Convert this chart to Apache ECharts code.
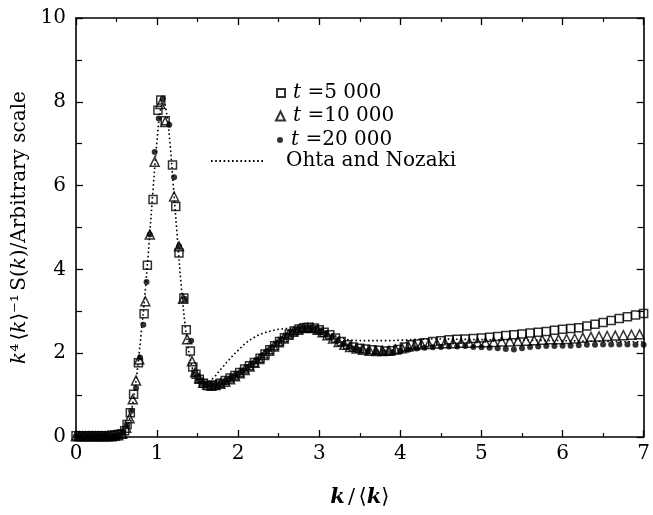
<!DOCTYPE html>
<html>
<head>
<meta charset="utf-8">
<script src="https://cdn.jsdelivr.net/npm/echarts@6/dist/echarts.min.js"></script>
<style>html,body{margin:0;padding:0;background:#fff;}#c{width:653px;height:515px;}</style>
</head>
<body>
<div id="c"></div>
<script>
// t = 5 000 (squares)
const kSq = [0.00,0.04,0.08,0.12,0.16,0.20,0.24,0.28,0.32,0.36,0.40,0.44,0.48,0.52,0.56,0.60,0.63,0.67,0.71,0.77,0.84,0.88,0.95,1.01,1.045,1.10,1.19,1.23,1.27,1.33,1.36,1.41,1.44,1.48,1.52,1.57,1.62,1.67,1.72,1.78,1.84,1.90,1.96,2.02,2.08,2.14,2.20,2.27,2.33,2.39,2.45,2.51,2.57,2.63,2.69,2.75,2.81,2.87,2.94,3.00,3.06,3.13,3.20,3.27,3.35,3.42,3.50,3.57,3.65,3.73,3.81,3.89,3.97,4.05,4.13,4.21,4.30,4.40,4.50,4.60,4.70,4.80,4.90,5.00,5.10,5.20,5.30,5.40,5.50,5.60,5.70,5.80,5.90,6.00,6.10,6.20,6.30,6.40,6.50,6.60,6.70,6.80,6.90,7.00];
const vSq = [0.03,0.03,0.03,0.03,0.03,0.03,0.03,0.03,0.03,0.03,0.03,0.04,0.05,0.06,0.08,0.15,0.3,0.58,1.02,1.77,2.94,4.1,5.67,7.8,8.04,7.55,6.49,5.5,4.39,3.32,2.56,2.05,1.67,1.5,1.38,1.28,1.23,1.22,1.24,1.28,1.35,1.41,1.47,1.54,1.62,1.70,1.78,1.88,1.98,2.08,2.18,2.28,2.37,2.46,2.53,2.58,2.61,2.62,2.60,2.56,2.50,2.44,2.36,2.28,2.20,2.15,2.12,2.10,2.08,2.07,2.05,2.06,2.09,2.15,2.20,2.22,2.25,2.28,2.30,2.32,2.33,2.34,2.35,2.36,2.38,2.40,2.42,2.44,2.46,2.48,2.50,2.52,2.55,2.57,2.59,2.61,2.65,2.69,2.73,2.78,2.83,2.87,2.91,2.95];
// t = 10 000 (triangles)
const kTri = [0.00,0.04,0.08,0.12,0.16,0.20,0.24,0.28,0.32,0.36,0.40,0.44,0.48,0.52,0.57,0.62,0.66,0.70,0.74,0.78,0.855,0.91,0.97,1.04,1.10,1.21,1.27,1.32,1.37,1.43,1.47,1.52,1.57,1.62,1.67,1.72,1.78,1.84,1.90,1.96,2.02,2.08,2.14,2.20,2.26,2.32,2.38,2.44,2.50,2.56,2.62,2.68,2.74,2.80,2.86,2.92,2.98,3.04,3.10,3.17,3.24,3.31,3.38,3.46,3.54,3.62,3.70,3.78,3.86,3.94,4.02,4.10,4.18,4.26,4.35,4.45,4.55,4.65,4.75,4.85,4.95,5.05,5.15,5.25,5.35,5.45,5.55,5.65,5.75,5.85,5.95,6.05,6.15,6.25,6.35,6.45,6.55,6.65,6.75,6.85,6.95];
const vTri = [0.02,0.02,0.02,0.02,0.02,0.02,0.02,0.02,0.02,0.02,0.02,0.02,0.03,0.04,0.08,0.22,0.45,0.9,1.35,1.85,3.24,4.83,6.57,7.95,7.52,5.74,4.55,3.3,2.33,1.81,1.55,1.4,1.3,1.25,1.23,1.24,1.27,1.32,1.38,1.45,1.52,1.6,1.68,1.77,1.86,1.96,2.06,2.16,2.26,2.35,2.44,2.51,2.56,2.6,2.61,2.6,2.56,2.5,2.43,2.35,2.27,2.2,2.15,2.11,2.08,2.06,2.05,2.05,2.06,2.09,2.12,2.16,2.19,2.21,2.22,2.23,2.24,2.24,2.25,2.25,2.26,2.26,2.27,2.28,2.28,2.29,2.3,2.31,2.32,2.33,2.33,2.34,2.35,2.37,2.39,2.4,2.41,2.42,2.43,2.44,2.45];
// t = 20 000 (filled circles)
const kDot = [0.00,0.04,0.08,0.12,0.16,0.20,0.24,0.28,0.32,0.36,0.40,0.44,0.48,0.52,0.58,0.63,0.68,0.74,0.79,0.83,0.87,0.91,0.97,1.02,1.07,1.15,1.21,1.27,1.34,1.42,1.47,1.52,1.56,1.60,1.65,1.70,1.76,1.82,1.88,1.94,2.00,2.06,2.12,2.18,2.24,2.30,2.36,2.42,2.48,2.54,2.60,2.66,2.72,2.78,2.84,2.90,2.96,3.02,3.08,3.15,3.22,3.29,3.36,3.43,3.50,3.60,3.70,3.80,3.90,4.00,4.10,4.20,4.30,4.40,4.50,4.60,4.70,4.80,4.90,5.00,5.10,5.20,5.30,5.40,5.50,5.60,5.70,5.80,5.90,6.00,6.10,6.20,6.30,6.40,6.50,6.60,6.70,6.80,6.90,7.00];
const vDot = [0.02,0.02,0.02,0.02,0.02,0.02,0.02,0.02,0.02,0.02,0.02,0.02,0.02,0.04,0.1,0.28,0.62,1.17,1.9,2.68,3.7,4.83,6.8,7.6,8.08,7.45,6.2,4.55,3.3,2.3,1.49,1.35,1.28,1.24,1.22,1.22,1.25,1.3,1.37,1.44,1.51,1.59,1.67,1.76,1.85,1.95,2.05,2.15,2.25,2.34,2.43,2.5,2.55,2.59,2.61,2.6,2.57,2.52,2.46,2.38,2.3,2.22,2.16,2.11,2.08,2.05,2.03,2.02,2.02,2.05,2.08,2.11,2.13,2.14,2.15,2.16,2.16,2.17,2.15,2.14,2.13,2.12,2.1,2.09,2.12,2.15,2.16,2.17,2.17,2.18,2.18,2.19,2.2,2.2,2.21,2.21,2.21,2.21,2.2,2.2];
// Ohta and Nozaki (dotted curve)
const kON = [0,0.1,0.2,0.3,0.4,0.5,0.55,0.6,0.65,0.7,0.75,0.8,0.85,0.9,0.95,1.0,1.04,1.08,1.12,1.16,1.2,1.25,1.3,1.35,1.4,1.45,1.5,1.55,1.6,1.65,1.7,1.8,1.9,2.0,2.1,2.2,2.3,2.4,2.5,2.6,2.7,2.8,2.9,3.0,3.1,3.2,3.3,3.4,3.6,3.8,4.0,4.2,4.4,4.8,5.2,5.6,6.0,6.5,7.0];
const vON = [0,0,0,0,0,0.02,0.05,0.12,0.35,0.8,1.5,2.4,3.4,4.6,5.9,7.1,7.8,8.0,7.7,7.0,6.0,4.75,3.55,2.6,1.95,1.55,1.38,1.31,1.3,1.34,1.42,1.65,1.87,2.07,2.25,2.38,2.47,2.53,2.57,2.59,2.6,2.6,2.58,2.54,2.48,2.41,2.35,2.31,2.3,2.3,2.31,2.33,2.34,2.33,2.32,2.31,2.3,2.28,2.27];

const seriesNames = ['t =5 000', 't =10 000', 't =20 000', 'Ohta and Nozaki'];
const xTicks = [0,1,2,3,4,5,6,7];
const yTicks = [0,2,4,6,8,10];

const zip = (a, b) => a.map((k, i) => [k, b[i]]);
const FONT = 'DejaVu Serif';
const black = '#000';

const chart = echarts.init(document.getElementById('c'), null, {renderer: 'canvas'});

const axisCommon = {
  type: 'value',
  axisLine: {show: true, onZero: false, lineStyle: {color: black, width: 1.6}},
  axisTick: {show: true, inside: true, length: 7, lineStyle: {color: black, width: 1.3}},
  minorTick: {show: true, splitNumber: 2, length: 4, lineStyle: {color: black, width: 1.2}},
  splitLine: {show: false},
  minorSplitLine: {show: false}
};

const legendText = {
  color: black, fontFamily: FONT, fontSize: 20, lineHeight: 22, padding: [0, 0, 0, 3],
  rich: {
    i: {fontFamily: FONT, fontSize: 20, fontStyle: 'italic', color: black, lineHeight: 22},
    r: {fontFamily: FONT, fontSize: 20, color: black, lineHeight: 22}
  }
};
const tFormatter = name => '{i|t} {r|' + name.slice(2) + '}';

function markerLegend(name, top, size, left) {
  return {
    data: [name], left: left, top: top,
    itemWidth: size, itemHeight: size,
    selectedMode: false, formatter: tFormatter, textStyle: legendText
  };
}

const option = {
  backgroundColor: '#fff',
  animation: false,
  grid: {left: 76, right: 3, top: 18, bottom: 78, containLabel: false},
  xAxis: [
    Object.assign({}, axisCommon, {
      min: xTicks[0], max: xTicks[xTicks.length - 1], interval: 1, position: 'bottom',
      axisLabel: {color: black, fontFamily: FONT, fontSize: 20, margin: 7},
      name: '{b|k} {r|/} {r|\u27E8}{b|k}{r|\u27E9}',
      nameLocation: 'middle', nameGap: 50,
      nameTextStyle: {
        color: black,
        rich: {
          b: {fontFamily: FONT, fontSize: 21, fontStyle: 'italic', fontWeight: 'bold', color: black},
          r: {fontFamily: FONT, fontSize: 21, color: black}
        }
      }
    }),
    Object.assign({}, axisCommon, {
      min: xTicks[0], max: xTicks[xTicks.length - 1], interval: 1, position: 'top',
      axisLabel: {show: false}
    })
  ],
  yAxis: [
    Object.assign({}, axisCommon, {
      min: yTicks[0], max: yTicks[yTicks.length - 1], interval: 2, position: 'left',
      minorTick: {show: true, splitNumber: 2, length: 6, lineStyle: {color: black, width: 1.2}},
      axisLabel: {color: black, fontFamily: FONT, fontSize: 20, margin: 10},
      name: '{i|k}{s|\u2074} {r|\u27E8}{i|k}{r|\u27E9}{s|\u207B\u00B9} {r|S(}{i|k}{r|)/Arbitrary scale}',
      nameLocation: 'middle', nameGap: 43, nameRotate: 90,
      nameTextStyle: {
        color: black,
        rich: {
          i: {fontFamily: FONT, fontSize: 20, fontStyle: 'italic', color: black},
          r: {fontFamily: FONT, fontSize: 20, color: black},
          s: {fontFamily: FONT, fontSize: 20, color: black}
        }
      }
    }),
    Object.assign({}, axisCommon, {
      min: yTicks[0], max: yTicks[yTicks.length - 1], interval: 2, position: 'right',
      minorTick: {show: true, splitNumber: 2, length: 6, lineStyle: {color: black, width: 1.2}},
      axisLabel: {show: false}
    })
  ],
  legend: [
    markerLegend(seriesNames[0], 77, 8, 271),
    markerLegend(seriesNames[1], 100, 9, 270),
    markerLegend(seriesNames[2], 124, 6, 272),
    {
      data: [seriesNames[3]],
      left: 205, top: 145,
      itemWidth: 52, itemHeight: 10,
      selectedMode: false,
      itemStyle: {color: 'rgba(0,0,0,0)', borderWidth: 0, opacity: 0},
      textStyle: {color: black, fontFamily: FONT, fontSize: 20, lineHeight: 22, padding: [0, 0, 0, 18]}
    }
  ],
  series: [
    {
      name: seriesNames[3], type: 'line', data: zip(kON, vON),
      smooth: 0.35, symbol: 'none', showSymbol: false,
      lineStyle: {color: black, width: 1.6, type: [1.6, 2.6]},
      itemStyle: {color: black},
      silent: true, z: 2
    },
    {
      name: seriesNames[0], type: 'scatter', data: zip(kSq, vSq),
      symbol: 'rect', symbolSize: 8,
      itemStyle: {color: 'rgba(255,255,255,0)', borderColor: black, borderWidth: 1.5},
      silent: true, z: 3
    },
    {
      name: seriesNames[1], type: 'scatter', data: zip(kTri, vTri),
      symbol: 'triangle', symbolSize: 9,
      itemStyle: {color: 'rgba(255,255,255,0)', borderColor: black, borderWidth: 1.5},
      silent: true, z: 4
    },
    {
      name: seriesNames[2], type: 'scatter', data: zip(kDot, vDot),
      symbol: 'circle', symbolSize: 6,
      itemStyle: {color: black},
      silent: true, z: 5
    }
  ]
};
chart.setOption(option);
</script>
</body>
</html>
